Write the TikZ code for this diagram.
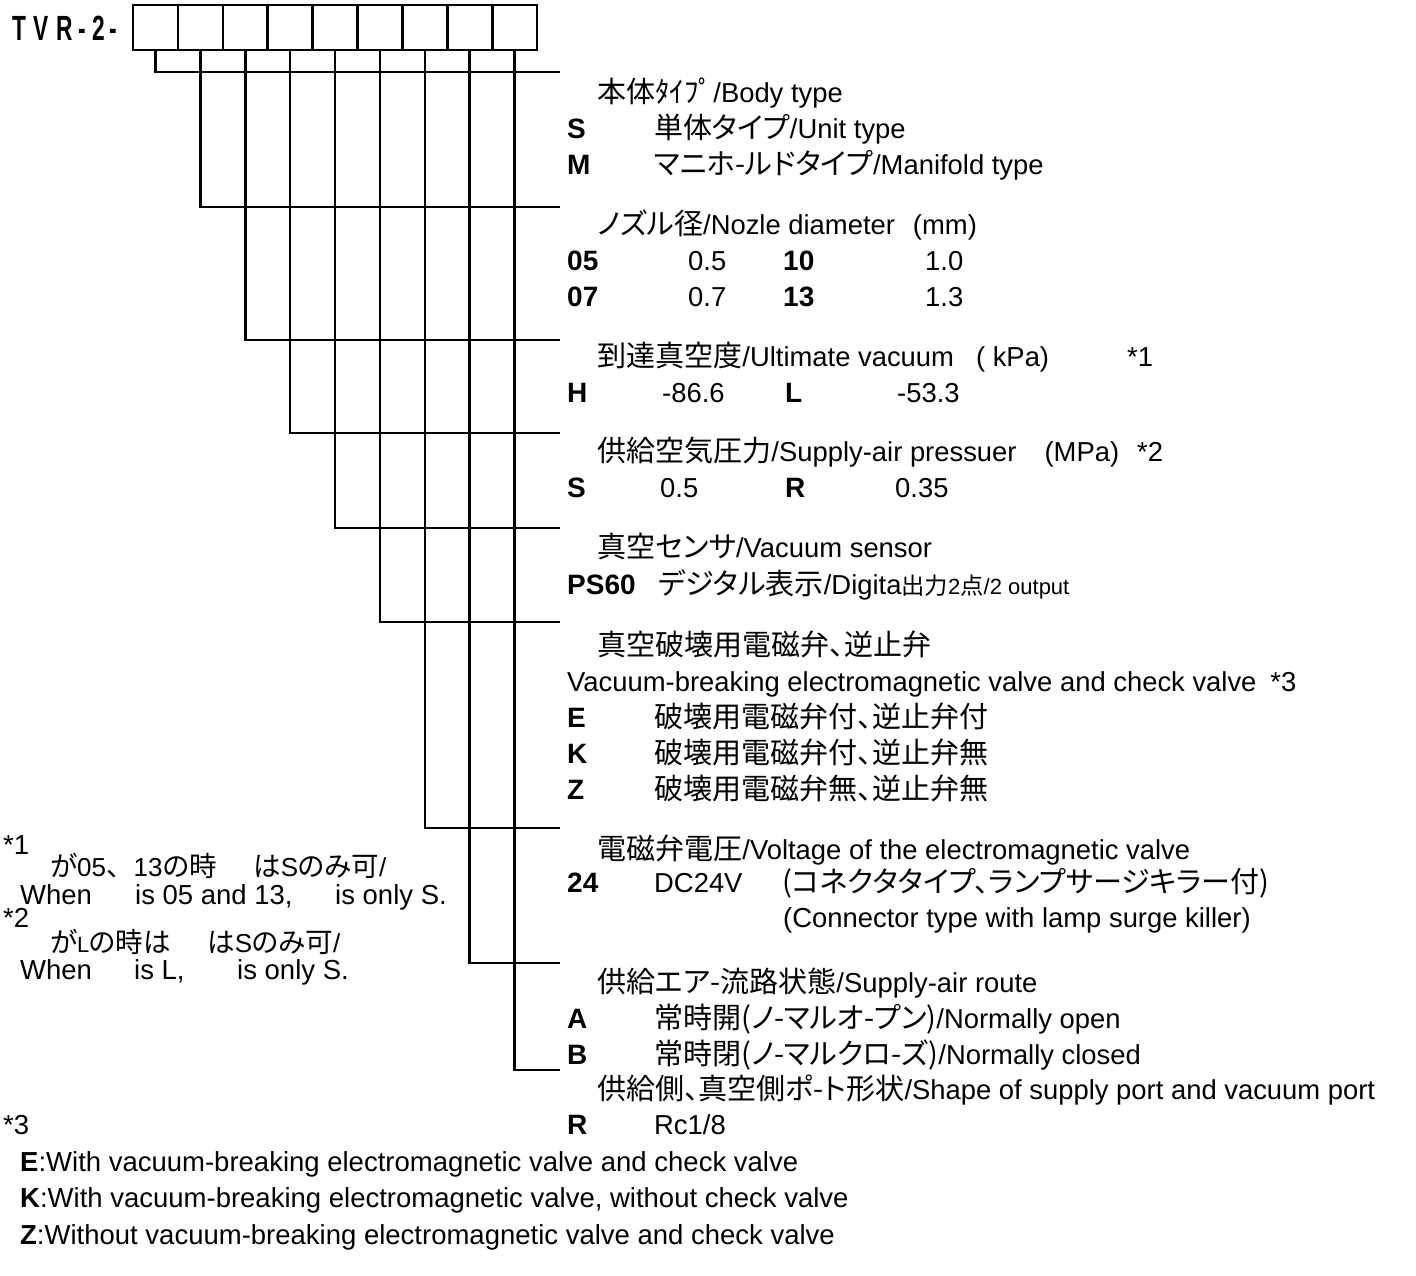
\documentclass[tikz,border=0pt]{standalone}
\usepackage{fontspec}
\setmainfont{Liberation Sans}
\newfontfamily\jpfont[Scale=1.06,RawFeature=+palt]{Noto Sans CJK JP}
\newfontfamily\jpwide[Scale=1.06]{Noto Sans CJK JP}
\newfontfamily\modelfont[FakeStretch=0.65]{Liberation Sans}
\newcommand{\jp}[1]{{\jpfont #1}}
\newcommand{\smalltxt}{\fontsize{22}{26}\selectfont}
\tikzset{
  cell/.style={draw, line width=2.6pt, minimum width=44.9pt, minimum height=45pt, inner sep=0pt},
  bar/.style={line width=2.6pt},
  txt/.style={anchor=base west, inner sep=0pt, font=\fontsize{27.4}{32}\selectfont},
  code/.style={txt, font=\fontsize{28}{32}\selectfont\bfseries},
  note/.style={txt, font=\fontsize{27.5}{32}\selectfont},
  jpnote/.style={txt, font=\fontsize{26}{30}\selectfont},
}
\begin{document}
\begin{tikzpicture}[x=1pt,y=-1pt]
\useasboundingbox (0,0) rectangle (1416,1275);

% model number and its boxes
\node[anchor=base west, inner sep=0pt, font=\fontsize{35}{36}\modelfont\bfseries] (model) at (12,40)
  {T\hspace{7pt}V\hspace{8pt}R\hspace{6pt}-\hspace{6pt}2\hspace{5pt}-};
\foreach \i in {1,...,9}
  \node[cell] (c\i) at ({133+22.45+(\i-1)*44.9},27.5) {};

% brackets from each box to its block
\foreach \i/\y in {1/72,2/207,3/340,4/433,5/528,6/622,7/828,8/963,9/1070}{
  \coordinate (h\i) at (560,\y);
  \draw[bar] (c\i.south) |- (h\i);
}

% body type
\node[txt] (hd1) at (597,102) {\jp{本体ﾀｲﾌﾟ}/Body type};
\node[code] (s1a) at (567,138) {S};
\node[txt] (d1a) at (654,138) {\jp{単体タイプ}/Unit type};
\node[code] (s1b) at (567,174) {M};
\node[txt] (d1b) at (654,174) {\jp{マニホ-ルドタイプ}/Manifold type};

% nozzle
\node[txt] (hd2) at (597,234) {\jp{ノズル径}/Nozle diameter\hspace{18pt}(mm)};
\node[code] (s2a) at (567,270) {05};
\node[txt] (d2a) at (688,270) {0.5};
\node[code] (s2b) at (783,270) {10};
\node[txt] (d2b) at (925,270) {1.0};
\node[code] (s2c) at (567,306) {07};
\node[txt] (d2c) at (688,306) {0.7};
\node[code] (s2d) at (783,306) {13};
\node[txt] (d2d) at (925,306) {1.3};

% ultimate vacuum
\node[txt] (hd3) at (597,366) {\jp{到達真空度}/Ultimate vacuum\hspace{22pt}( kPa)\hspace{78pt}*1};
\node[code] (s3a) at (567,402) {H};
\node[txt] (d3a) at (662,402) {-86.6};
\node[code] (s3b) at (785,402) {L};
\node[txt] (d3b) at (897,402) {-53.3};

% supply pressure
\node[txt] (hd4) at (597,461) {\jp{供給空気圧力}/Supply-air pressuer\hspace{28pt}(MPa)\hspace{18pt}*2};
\node[code] (s4a) at (567,497) {S};
\node[txt] (d4a) at (660,497) {0.5};
\node[code] (s4b) at (785,497) {R};
\node[txt] (d4b) at (895,497) {0.35};

% sensor
\node[txt] (hd5) at (597,557) {\jp{真空センサ}/Vacuum sensor};
\node[code] (s5a) at (567,594) {PS60};
\node[txt] (d5a) at (658,594) {\jp{デジタル表示}/Digita{\smalltxt\jp{出力}2\jp{点}/2 output}};

% breaking valve
\node[txt] (hd6) at (597,655) {\jp{真空破壊用電磁弁、逆止弁}};
\node[txt] (hd6b) at (567,691) {Vacuum-breaking electromagnetic valve and check valve\hspace{14pt}*3};
\node[code] (s6a) at (567,727) {E};
\node[txt] (d6a) at (654,727) {\jp{破壊用電磁弁付、逆止弁付}};
\node[code] (s6b) at (567,763) {K};
\node[txt] (d6b) at (654,763) {\jp{破壊用電磁弁付、逆止弁無}};
\node[code] (s6c) at (567,799) {Z};
\node[txt] (d6c) at (654,799) {\jp{破壊用電磁弁無、逆止弁無}};

% voltage
\node[txt] (hd7) at (597,859) {\jp{電磁弁電圧}/Voltage of the electromagnetic valve};
\node[code] (s7a) at (567,892) {24};
\node[txt] (d7a) at (654,892) {DC24V};
\node[txt] (d7b) at (782,892) {\jp{(コネクタタイプ、ランプサージキラー付)}};
\node[txt] (d7c) at (783,927) {(Connector type with lamp surge killer)};

% supply route
\node[txt] (hd8) at (597,992) {\jp{供給エア-流路状態}/Supply-air route};
\node[code] (s8a) at (567,1028) {A};
\node[txt] (d8a) at (654,1028) {\jp{常時開(ノ-マルオ-プン)}/Normally open};
\node[code] (s8b) at (567,1064) {B};
\node[txt] (d8b) at (654,1064) {\jp{常時閉(ノ-マルクロ-ズ)}/Normally closed};

% port
\node[txt] (hd9) at (597,1099) {\jp{供給側、真空側ポ-ト形状}/Shape of supply port and vacuum port};
\node[code] (s9a) at (567,1134) {R};
\node[txt] (d9a) at (654,1134) {Rc1/8};

% notes
\node[note] (n1) at (3,854) {*1};
\node[jpnote] (n1a) at (50,876) {\jp{が}05{\jpwide 、}13\jp{の時}};
\node[jpnote] (n1b) at (253,876) {\jp{は}S\jp{のみ可}/};
\node[note] (n1c) at (20,904) {When};
\node[note] (n1d) at (135,904) {is 05 and 13,};
\node[note] (n1e) at (335,904) {is only S.};
\node[note] (n2) at (3,927) {*2};
\node[jpnote] (n2a) at (50,952) {\jp{が}{\smalltxt L}\jp{の時は}};
\node[jpnote] (n2b) at (207,952) {\jp{は}S\jp{のみ可}/};
\node[note] (n2c) at (20,979) {When};
\node[note] (n2d) at (134,979) {is L,};
\node[note] (n2e) at (237,979) {is only S.};
\node[note] (n3) at (3,1134) {*3};
\node[note] (n3a) at (20,1171) {\textbf{E}:With vacuum-breaking electromagnetic valve and check valve};
\node[note] (n3b) at (20,1207) {\textbf{K}:With vacuum-breaking electromagnetic valve, without check valve};
\node[note] (n3c) at (20,1244) {\textbf{Z}:Without vacuum-breaking electromagnetic valve and check valve};
\end{tikzpicture}
\end{document}
